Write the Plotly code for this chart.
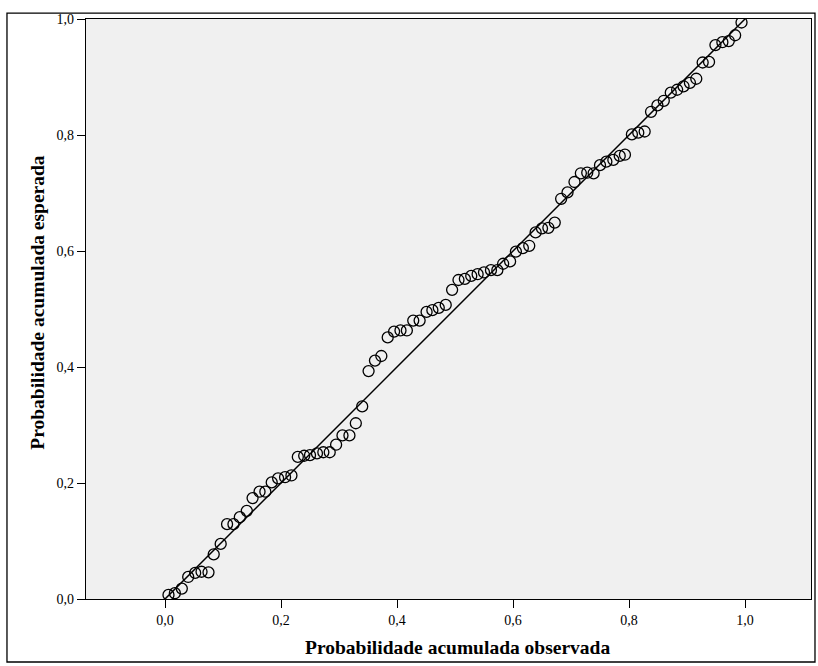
import plotly.graph_objects as go

# Normal P-P plot: observed vs expected cumulative probability
observed = [0.006, 0.017, 0.029, 0.040, 0.052, 0.063, 0.075, 0.084, 0.096, 0.107,
            0.118, 0.129, 0.141, 0.151, 0.163, 0.173, 0.184, 0.195, 0.207, 0.218,
            0.229, 0.240, 0.250, 0.262, 0.273, 0.284, 0.295, 0.306, 0.318, 0.329,
            0.340, 0.351, 0.362, 0.373, 0.384, 0.395, 0.406, 0.417, 0.428, 0.439,
            0.451, 0.461, 0.472, 0.484, 0.495, 0.506, 0.517, 0.528, 0.539, 0.550,
            0.562, 0.573, 0.583, 0.595, 0.605, 0.617, 0.628, 0.639, 0.650, 0.661,
            0.672, 0.683, 0.694, 0.706, 0.717, 0.728, 0.739, 0.750, 0.761, 0.773,
            0.784, 0.793, 0.805, 0.816, 0.827, 0.838, 0.849, 0.860, 0.872, 0.883,
            0.894, 0.905, 0.916, 0.927, 0.938, 0.949, 0.961, 0.972, 0.983, 0.994]
expected = [0.007, 0.010, 0.018, 0.038, 0.045, 0.047, 0.046, 0.077, 0.095, 0.129,
            0.129, 0.141, 0.152, 0.174, 0.185, 0.185, 0.201, 0.208, 0.210, 0.213,
            0.245, 0.247, 0.248, 0.251, 0.253, 0.253, 0.266, 0.282, 0.282, 0.303,
            0.332, 0.393, 0.411, 0.419, 0.451, 0.461, 0.463, 0.463, 0.480, 0.480,
            0.495, 0.498, 0.502, 0.507, 0.533, 0.550, 0.552, 0.557, 0.560, 0.563,
            0.567, 0.567, 0.578, 0.582, 0.599, 0.605, 0.609, 0.632, 0.639, 0.640,
            0.649, 0.690, 0.701, 0.719, 0.734, 0.735, 0.734, 0.748, 0.754, 0.757,
            0.764, 0.766, 0.801, 0.804, 0.806, 0.840, 0.851, 0.859, 0.873, 0.878,
            0.884, 0.890, 0.897, 0.925, 0.926, 0.955, 0.960, 0.962, 0.972, 0.994]

ref_x = [0.0, 1.0]
ref_y = [0.0, 1.0]

tick_vals = [0.0, 0.2, 0.4, 0.6, 0.8, 1.0]
tick_text = ["0,0", "0,2", "0,4", "0,6", "0,8", "1,0"]

serif = "Liberation Serif, Times New Roman, serif"

fig = go.Figure()
fig.add_trace(go.Scatter(
    x=observed, y=expected, mode="markers",
    marker=dict(symbol="circle-open", size=11, color="black",
                line=dict(width=1.3, color="black")),
    showlegend=False, hoverinfo="x+y",
))
fig.add_trace(go.Scatter(
    x=ref_x, y=ref_y, mode="lines",
    line=dict(color="black", width=1.5),
    showlegend=False, hoverinfo="skip",
))

axis_common = dict(
    showgrid=False, zeroline=False, showline=True, mirror=True,
    linecolor="black", linewidth=1.3,
    ticks="outside", ticklen=8, tickwidth=1.3, tickcolor="black",
    tickvals=tick_vals, ticktext=tick_text,
    tickfont=dict(family=serif, size=14, color="#000000"),
)

fig.update_layout(
    width=818, height=666,
    margin=dict(l=86, r=7, t=19, b=67),
    paper_bgcolor="white", plot_bgcolor="#F0F0F0",
    xaxis=dict(range=[-0.1362, 1.1138], **axis_common),
    yaxis=dict(range=[0.0, 1.0], **axis_common),
    annotations=[
        dict(text="<b>Probabilidade acumulada observada</b>",
             xref="paper", yref="paper", x=0.512, y=-0.083,
             showarrow=False, xanchor="center", yanchor="middle",
             font=dict(family=serif, size=19.5, color="black")),
        dict(text="<b>Probabilidade acumulada esperada</b>",
             xref="paper", yref="paper", x=-0.068, y=0.512, textangle=-90,
             showarrow=False, xanchor="center", yanchor="middle",
             font=dict(family=serif, size=19.5, color="black")),
    ],
    shapes=[
        # outer chart frame
        dict(type="rect", xref="paper", yref="paper",
             x0=-0.109, x1=1.0055, y0=-0.1086, y1=1.0103,
             line=dict(color="black", width=1.3), fillcolor="rgba(0,0,0,0)",
             layer="below"),
    ],
)

fig.write_html("out.html")
